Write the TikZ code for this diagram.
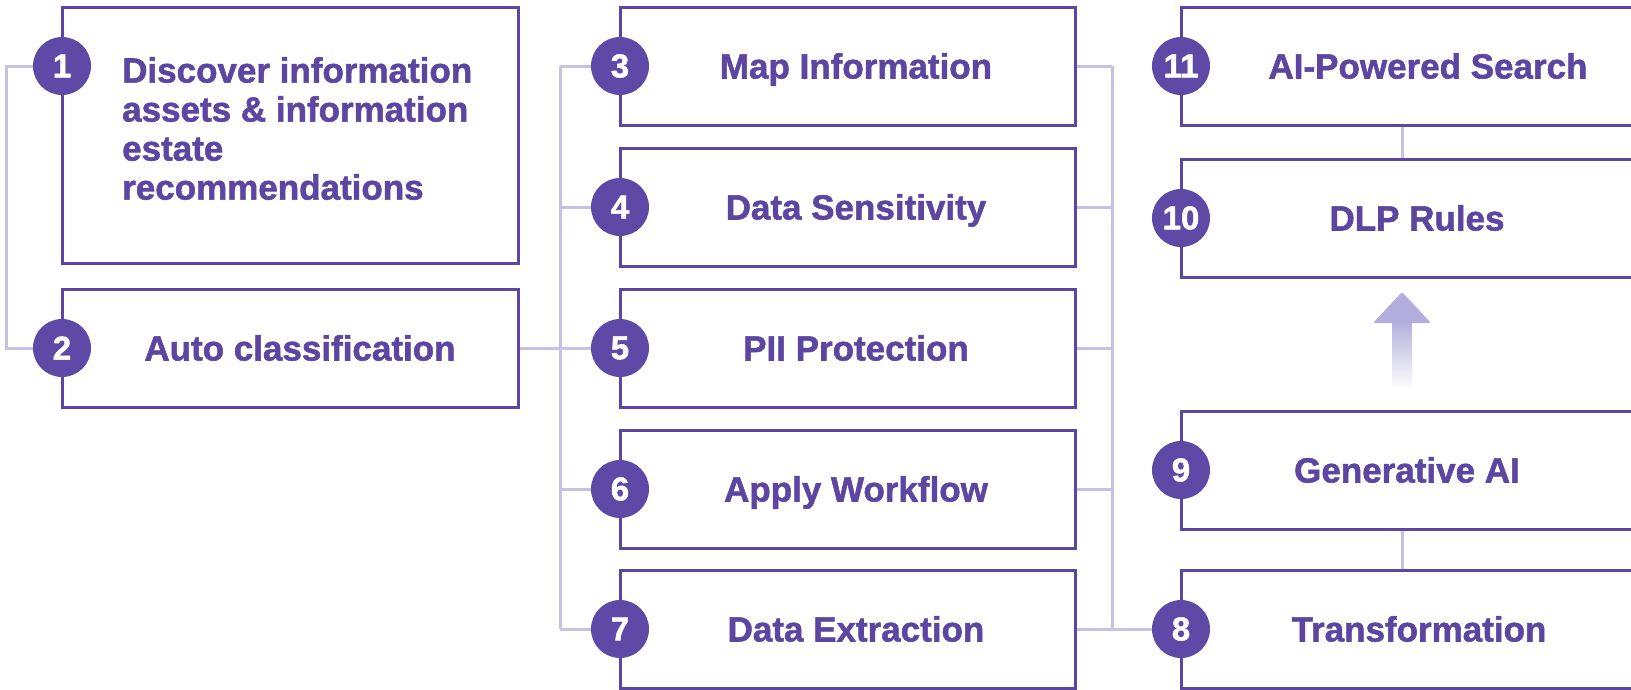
\documentclass[tikz,border=0pt]{standalone}
\usepackage{fontspec}
\setmainfont{Liberation Sans}[BoldFeatures={FakeBold=1.5}]
\definecolor{box_purple}{RGB}{92, 70, 162}
\definecolor{num_purple}{RGB}{94, 73, 166}
\definecolor{link_lilac}{RGB}{197, 192, 228}
\definecolor{arrow_lilac}{RGB}{178, 173, 220}
\tikzstyle{box}=[rectangle,draw=box_purple,fill=white,line width=3pt,
  inner sep=0pt,minimum width=455pt,minimum height=118pt]
\tikzstyle{num}=[circle,fill=num_purple,text=white,inner sep=0pt,
  minimum size=58pt,font=\fontsize{33}{33}\selectfont\bfseries]
\tikzstyle{lbl}=[text=box_purple,inner sep=0pt,anchor=base,
  font=\fontsize{35}{39}\selectfont\bfseries]
\tikzstyle{link}=[draw=link_lilac,line width=3pt]

\begin{document}
\begin{tikzpicture}[x=1pt,y=-1pt]
    \useasboundingbox (0,0) rectangle (1631,689);
    % first column
    \node [style=box,minimum width=456pt,minimum height=256pt] (b1) at (290,135) {};
    \node [style=box,minimum width=456pt] (b2) at (290,348) {};
    \node [style=lbl,anchor=north west,align=left] (t1) at (122,57)
      {Discover information\\assets \& information\\estate\\recommendations};
    \node [style=lbl] (t2) at (300,360.5) {Auto classification};
    \node [style=num] (n1) at (62,66) {1};
    \node [style=num] (n2) at (62,348) {2};
    % second column
    \node [style=box] (b3) at (847.5,66) {};
    \node [style=box] (b4) at (847.5,207) {};
    \node [style=box] (b5) at (847.5,348) {};
    \node [style=box] (b6) at (847.5,489) {};
    \node [style=box] (b7) at (847.5,629) {};
    \node [style=lbl] (t3) at (856,78.5) {Map Information};
    \node [style=lbl] (t4) at (856,219.5) {Data Sensitivity};
    \node [style=lbl] (t5) at (856,360.5) {PII Protection};
    \node [style=lbl] (t6) at (856,501.5) {Apply Workflow};
    \node [style=lbl] (t7) at (856,641.5) {Data Extraction};
    \node [style=num] (n3) at (620,66) {3};
    \node [style=num] (n4) at (620,207) {4};
    \node [style=num] (n5) at (620,348) {5};
    \node [style=num] (n6) at (620,489) {6};
    \node [style=num] (n7) at (620,629) {7};
    % third column
    \node [style=box] (b11) at (1408.5,66) {};
    \node [style=box] (b10) at (1408.5,218) {};
    \node [style=box] (b9) at (1408.5,470) {};
    \node [style=box] (b8) at (1408.5,629) {};
    \node [style=lbl] (t11) at (1428,78.5) {AI-Powered Search};
    \node [style=lbl] (t10) at (1417,230.5) {DLP Rules};
    \node [style=lbl] (t9) at (1407,482.5) {Generative AI};
    \node [style=lbl] (t8) at (1419,641.5) {Transformation};
    \node [style=num] (n11) at (1181,66) {11};
    \node [style=num] (n10) at (1181,218) {10};
    \node [style=num] (n9) at (1181,470) {9};
    \node [style=num] (n8) at (1181,629) {8};
    % bus points
    \coordinate (lb1) at (6,66);
    \coordinate (lb2) at (6,348);
    \coordinate (lb3) at (560,66);
    \coordinate (lb4) at (560,207);
    \coordinate (lb5) at (560,348);
    \coordinate (lb6) at (560,489);
    \coordinate (lb7) at (560,629);
    \coordinate (rb3) at (1112,66);
    \coordinate (rb4) at (1112,207);
    \coordinate (rb5) at (1112,348);
    \coordinate (rb6) at (1112,489);
    \coordinate (rb7) at (1112,629);
    \draw [style=link] (n1) to (lb1) to (lb2) to (n2);
    \draw [style=link] (b2.east) to (lb5);
    \draw [style=link] (lb3) to (lb7);
    \draw [style=link] (lb3) to (n3);
    \draw [style=link] (lb4) to (n4);
    \draw [style=link] (lb5) to (n5);
    \draw [style=link] (lb6) to (n6);
    \draw [style=link] (lb7) to (n7);
    \draw [style=link] (rb3) to (rb7);
    \draw [style=link] (b3.east) to (rb3);
    \draw [style=link] (b4.east) to (rb4);
    \draw [style=link] (b5.east) to (rb5);
    \draw [style=link] (b6.east) to (rb6);
    \draw [style=link] (b7.east) to (rb7) to (n8);
    \draw [style=link] ([xshift=-6.5pt]b11.south) to ([xshift=-6.5pt]b10.north);
    \draw [style=link] ([xshift=-6.5pt]b9.south) to ([xshift=-6.5pt]b8.north);
    % arrow up to the rules
    \shade [top color=arrow_lilac,bottom color=white] (1392.5,320) rectangle (1411.5,390);
    \fill [arrow_lilac,rounded corners=2pt] (1373,323) -- (1402,292) -- (1431,323) -- cycle;
\end{tikzpicture}
\end{document}
